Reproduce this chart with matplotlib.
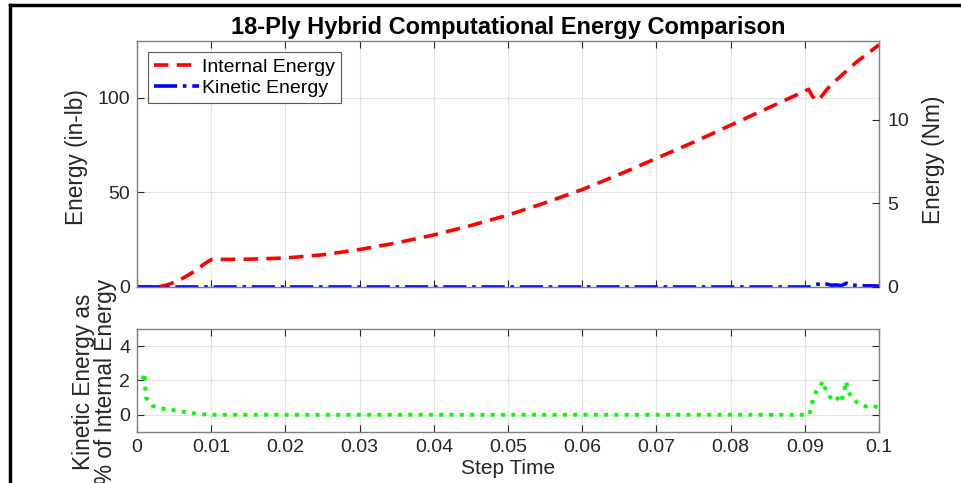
import numpy as np
import matplotlib
matplotlib.use("Agg")
import matplotlib.pyplot as plt
from matplotlib.lines import Line2D

plt.rcParams['font.family'] = ['Liberation Sans', 'DejaVu Sans']

# internal energy (in-lb)
t_ie = [0, 0.002, 0.003, 0.004, 0.005, 0.006, 0.007, 0.008, 0.009, 0.010, 0.012, 0.015,
        0.020, 0.025, 0.030, 0.035, 0.040, 0.045, 0.050, 0.055, 0.060, 0.065, 0.070,
        0.075, 0.080, 0.085, 0.090, 0.0905, 0.091, 0.0915, 0.092, 0.0925, 0.093, 0.094,
        0.095, 0.096, 0.097, 0.098, 0.099, 0.100]
internal = [0, 0, 0.2, 1.0, 2.5, 4.3, 6.5, 9.0, 12.0, 14.5, 14.6, 14.7,
            15.3, 17.0, 19.8, 23.3, 27.5, 32.5, 38.0, 44.5, 51.5, 59.5, 68.0,
            76.5, 85.5, 94.5, 103.5, 104.5, 101.0, 98.5, 99.5, 102.0, 104.5, 108.5,
            112.0, 115.5, 119.0, 122.0, 125.0, 128.0]

# kinetic energy (in-lb)
t_ke = [0, 0.01, 0.02, 0.03, 0.04, 0.05, 0.06, 0.07, 0.08, 0.09, 0.0906, 0.0911, 0.0915,
        0.092, 0.0925, 0.093, 0.0936, 0.0942, 0.0949, 0.0956, 0.0960, 0.0965, 0.0974,
        0.0983, 0.0992, 0.100]
kinetic = [0, 0, 0, 0, 0, 0, 0, 0, 0, 0, 0, 0.9, 1.3, 1.6, 2.0, 1.5, 0.9, 1.1, 0.7,
           2.0, 1.4, 1.0, 0.75, 0.6, 0.6, 0.5]

# kinetic energy as % of internal energy
t_pct = [0.00076, 0.0010, 0.0011, 0.0012, 0.0017, 0.0021, 0.0032, 0.0050, 0.0068, 0.0086,
         0.010, 0.020, 0.030, 0.040, 0.050, 0.060, 0.070, 0.080, 0.090, 0.0906, 0.0911,
         0.0915, 0.0920, 0.0924, 0.0929, 0.0936, 0.0942, 0.0949, 0.0956, 0.0958, 0.0965,
         0.0974, 0.0983, 0.0992, 0.100]
pct = [2.06, 2.44, 1.67, 1.0, 0.81, 0.52, 0.37, 0.27, 0.13, 0.04,
       0, 0, 0, 0, 0, 0, 0, 0, 0, 0, 0.9,
       1.33, 1.58, 1.96, 1.38, 0.9, 1.06, 0.71, 1.96, 1.38, 0.9,
       0.62, 0.48, 0.52, 0.42]

INLB_TO_NM = 0.112985
tick_col = '#262626'
spine_col = '#7f7f7f'
TICK_FS = 14
LABEL_FS = 15
YLABEL_FS = 16.3

fig = plt.figure(figsize=(9.61, 4.83), dpi=100)
ax1 = fig.add_axes([0.1426, 0.4058, 0.7721, 0.5093])
ax3 = fig.add_axes([0.1426, 0.1056, 0.7721, 0.2133])

def style(ax):
    for s in ax.spines.values():
        s.set_color(spine_col)
        s.set_linewidth(1.0)
    ax.tick_params(direction='in', colors=tick_col, labelsize=TICK_FS, length=5, pad=5,
                   top=True, right=True, labelcolor=tick_col)
    ax.grid(True, color='#e3e3e3', linewidth=0.8)
    ax.set_axisbelow(True)

# top: energies
ax1.plot(t_ie, internal, '--', color='red', lw=2.6, dashes=(4, 2.3), label='Internal Energy')
ax1.plot(t_ke, kinetic, '-.', color='blue', lw=2.6, label='Kinetic Energy')
ax1.set_xlim(0, 0.1)
ax1.set_ylim(0, 130)
ax1.set_yticks([0, 50, 100])
ax1.set_xticks(np.arange(0, 0.101, 0.01))
ax1.set_xticklabels([])
style(ax1)
ax1.tick_params(right=False)
ax1.set_ylabel('Energy (in-lb)', fontsize=YLABEL_FS, color=tick_col)
ax1.yaxis.set_label_coords(-0.066, 0.53)
ax1.set_title('18-Ply Hybrid Computational Energy Comparison', fontsize=17,
              fontweight='bold', pad=5)
leg = ax1.legend(loc='upper left', fontsize=14, handlelength=2.3, handletextpad=0.2,
                 borderpad=0.3, labelspacing=0.2, fancybox=False, borderaxespad=0,
                 bbox_to_anchor=(0.0148, 0.955))
leg.get_frame().set_edgecolor('#303030')
leg.get_frame().set_linewidth(0.8)

ax2 = ax1.twinx()
ax2.set_ylim(0, 130 * INLB_TO_NM)
ax2.set_yticks([0, 5, 10])
for s in ax2.spines.values():
    s.set_visible(False)
ax2.tick_params(direction='in', colors=tick_col, labelsize=TICK_FS, length=5, pad=6)
ax2.set_ylabel('Energy (Nm)', fontsize=YLABEL_FS, color=tick_col)
ax2.yaxis.set_label_coords(1.058, 0.516)

# bottom: percentage
ax3.plot(t_pct, pct, ':', color=(0, 1, 0), lw=2.8)
ax3.set_xlim(0, 0.1)
ax3.set_ylim(-1, 5)
ax3.set_yticks([0, 2, 4])
ax3.set_xticks(np.arange(0, 0.101, 0.01))
ax3.set_xticklabels(['0', '0.01', '0.02', '0.03', '0.04', '0.05', '0.06', '0.07',
                     '0.08', '0.09', '0.1'])
style(ax3)
ax3.set_xlabel('Step Time', fontsize=LABEL_FS, color=tick_col, labelpad=2)
ax3.set_ylabel('Kinetic Energy as\n% of Internal Energy', fontsize=YLABEL_FS,
               color=tick_col, linespacing=0.95)
ax3.yaxis.set_label_coords(-0.027, 0.49)

# black frame edges
fig.add_artist(Line2D([0.0105, 0.0105], [0, 0.99], color='black', lw=2.5,
                      transform=fig.transFigure))
fig.add_artist(Line2D([0.0105, 1.0], [0.99, 0.99], color='black', lw=2.5,
                      transform=fig.transFigure))

fig.savefig('out.png', dpi=100)
